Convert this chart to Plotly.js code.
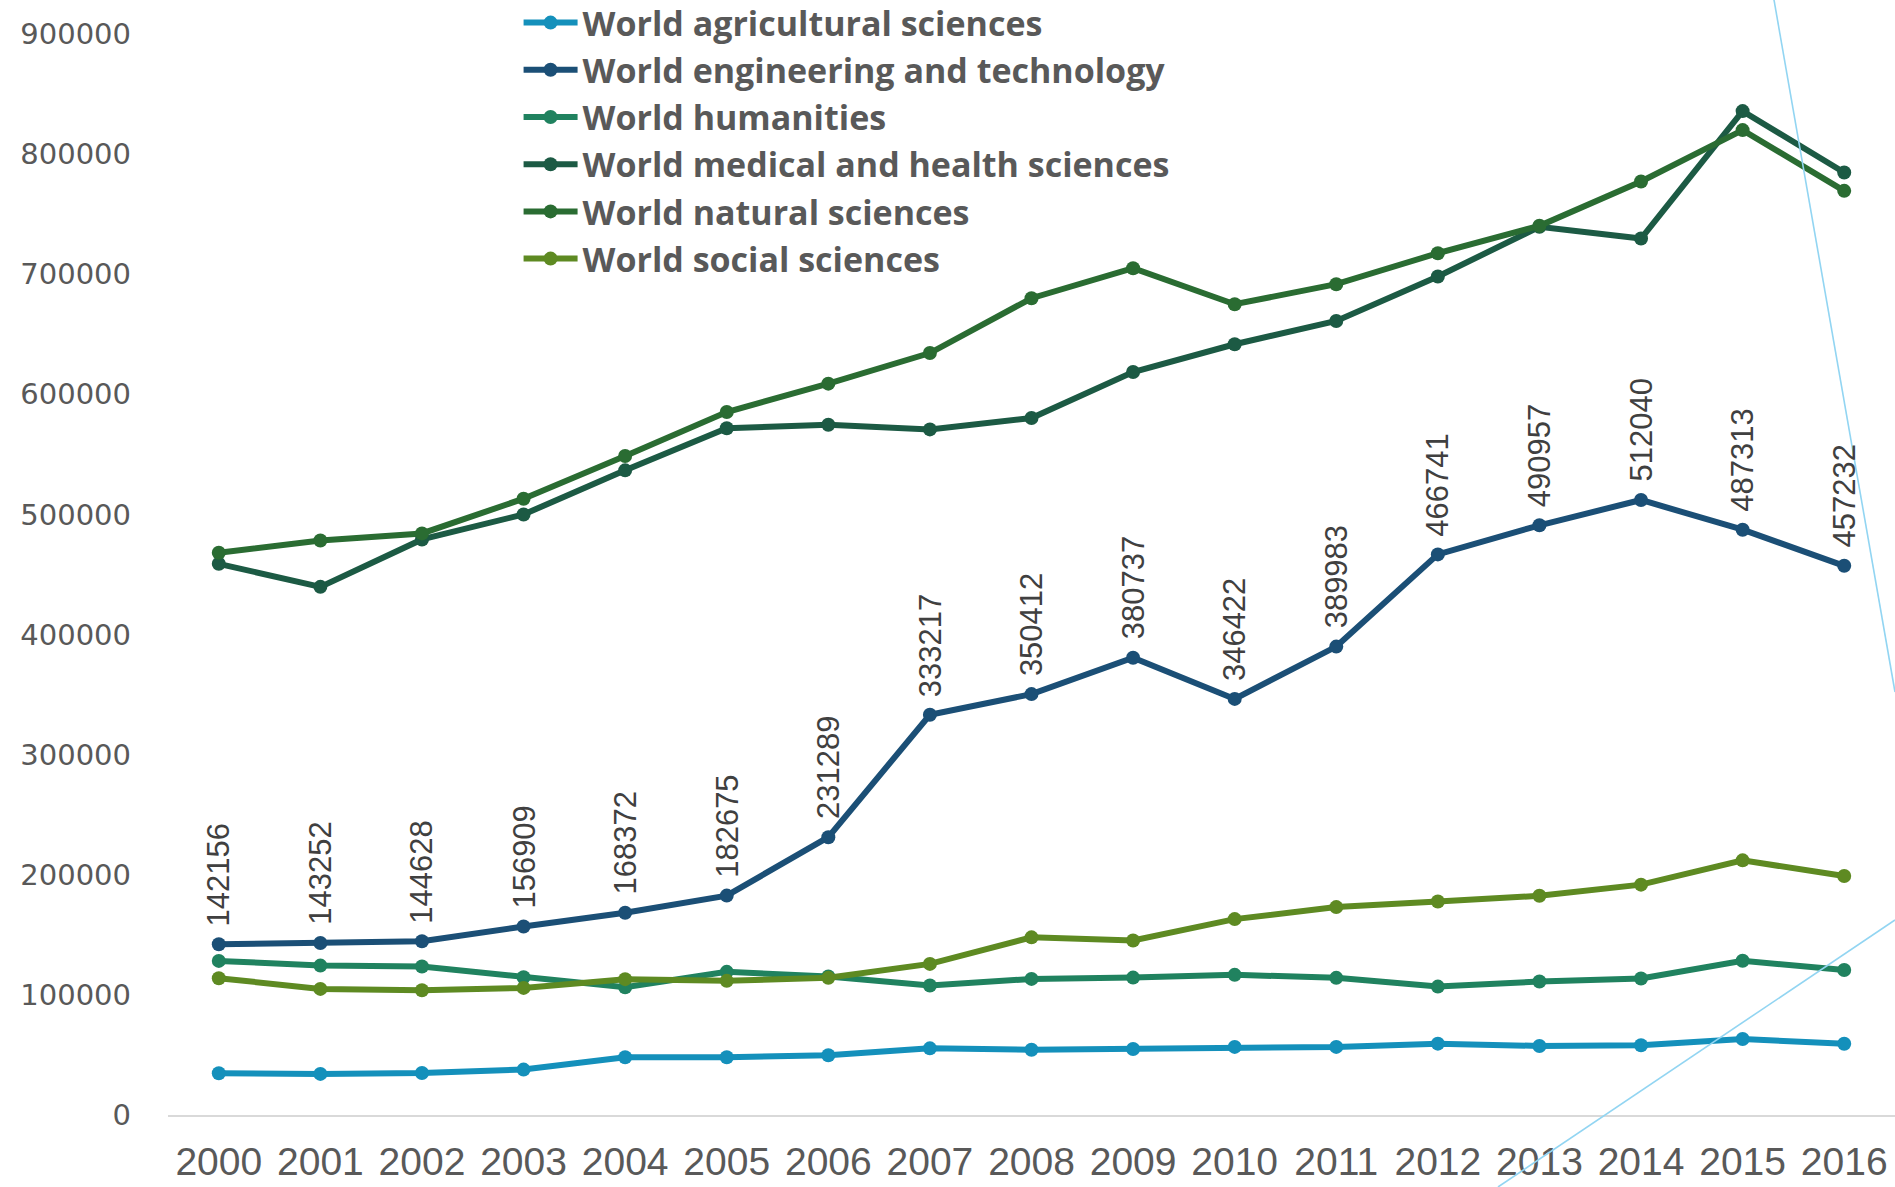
<!DOCTYPE html>
<html>
<head>
<meta charset="utf-8">
<script src="https://cdn.plot.ly/plotly-3.0.1.min.js"></script>
<style>html,body{margin:0;padding:0;background:#fff;}#chart{width:1895px;height:1187px;}</style>
</head>
<body>
<div id="chart"></div>
<script>
const years = ["2000","2001","2002","2003","2004","2005","2006","2007","2008","2009","2010","2011","2012","2013","2014","2015","2016"];
const agricultural = [34700,34200,35000,37800,48100,48100,49700,55500,54300,55000,56700,56700,59400,57500,58100,63300,59300];
const engineering = [142156,143252,144628,156909,168372,182675,231289,333217,350412,380737,346422,389983,466741,490957,512040,487313,457232];
const humanities = [128300,124400,123600,114700,106400,119200,115300,107800,113300,114400,116700,114200,106900,111100,113600,128400,120700];
const medical = [458900,439700,479200,500000,536700,571700,574700,570800,580300,618600,641700,661100,698100,739500,729700,835800,784700];
const natural = [468100,478300,484200,513100,548600,585300,608900,634400,680000,705000,675000,691700,717500,740300,777200,820000,769400];
const social = [113900,105000,103900,105800,113100,111700,114200,125800,147900,145300,163100,173100,177800,182500,191800,212000,199000];

const seriesNames = ["World agricultural sciences","World engineering and technology","World humanities","World medical and health sciences","World natural sciences","World social sciences"];
const seriesValues = [agricultural, engineering, humanities, medical, natural, social];
const seriesColors = ["#1490bb","#1b4f76","#20825f","#1c5a44","#2a6c32","#5e8a22"];

const traces = seriesNames.map((name, i) => ({
  type: "scatter",
  mode: "lines+markers",
  name: name,
  x: years,
  y: seriesValues[i],
  line: {color: seriesColors[i], width: 6},
  marker: {color: seriesColors[i], size: 14},
  cliponaxis: false,
  hoverinfo: "x+y+name"
}));

// data labels for the engineering series, rotated, positioned by category index
const labelAnnotations = engineering.map((v, i) => ({
  x: i,
  y: v,
  xref: "x",
  yref: "y",
  text: String(v),
  textangle: -90,
  showarrow: false,
  xanchor: "center",
  yanchor: "bottom",
  yshift: 16,
  font: {family: "Liberation Sans, Arial, sans-serif", size: 31, color: "#404040"}
}));

const layout = {
  width: 1895,
  height: 1187,
  margin: {l: 168, r: 0, t: 34, b: 72, pad: 0, autoexpand: false},
  paper_bgcolor: "#ffffff",
  plot_bgcolor: "#ffffff",
  showlegend: true,
  legend: {
    x: 0.203,
    y: 1.037,
    xanchor: "left",
    yanchor: "top",
    bgcolor: "rgba(0,0,0,0)",
    borderwidth: 0,
    itemwidth: 54,
    tracegroupgap: 0,
    font: {family: "Open Sans, DejaVu Sans, sans-serif", size: 34, color: "#595959", weight: 700}
  },
  xaxis: {
    type: "category",
    range: [-0.5, 16.5],
    automargin: false,
    showgrid: false,
    zeroline: false,
    showline: true,
    linecolor: "#d9d9d9",
    linewidth: 2,
    ticks: "",
    tickangle: 0,
    ticklabelstandoff: 11,
    tickfont: {family: "Liberation Sans, Arial, sans-serif", size: 39, color: "#595959"}
  },
  yaxis: {
    range: [0, 900000],
    automargin: false,
    dtick: 100000,
    tick0: 0,
    tickformat: "d",
    showgrid: false,
    zeroline: false,
    showline: false,
    ticks: "",
    ticklabelstandoff: 36,
    tickfont: {family: "DejaVu Sans, Verdana, sans-serif", size: 29, color: "#595959"}
  },
  annotations: labelAnnotations,
  shapes: [
    {type: "line", xref: "paper", yref: "paper", x0: 0.92994, y0: 1.0315, x1: 1.0, y1: 0.3913, line: {color: "#92d5f2", width: 1.6}},
    {type: "line", xref: "paper", yref: "paper", x0: 0.77012, y0: -0.0666, x1: 1.0, y1: 0.18039, line: {color: "#92d5f2", width: 1.6}}
  ]
};

Plotly.newPlot("chart", traces, layout, {displayModeBar: false, staticPlot: true});
</script>
</body>
</html>
